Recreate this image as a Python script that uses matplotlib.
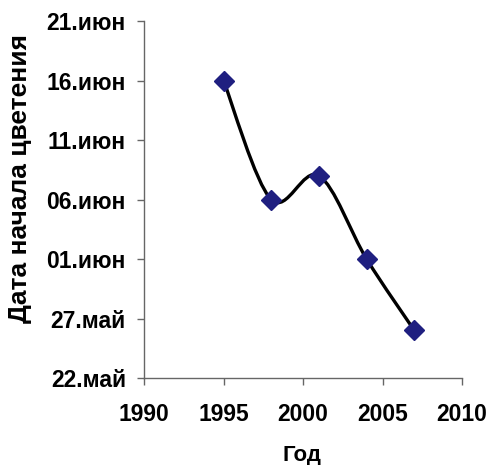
import datetime as dt
import numpy as np
import matplotlib.pyplot as plt
import matplotlib.dates as mdates
from matplotlib.path import Path
from matplotlib.patches import PathPatch

plt.rcParams["font.family"] = ["Liberation Sans", "DejaVu Sans"]
plt.rcParams["font.weight"] = "bold"

years = [1995, 1998, 2001, 2004, 2007]
bloom = [dt.date(2000, 6, 16), dt.date(2000, 6, 6), dt.date(2000, 6, 8),
         dt.date(2000, 6, 1), dt.date(2000, 5, 26)]
ytick_dates = [dt.date(2000, 5, 22), dt.date(2000, 5, 27), dt.date(2000, 6, 1),
               dt.date(2000, 6, 6), dt.date(2000, 6, 11), dt.date(2000, 6, 16),
               dt.date(2000, 6, 21)]
ytick_labels = ['22.май', '27.май', '01.июн', '06.июн', '11.июн', '16.июн', '21.июн']
xticks = [1990, 1995, 2000, 2005, 2010]

fig = plt.figure(figsize=(4.89, 4.65), dpi=100)
ax = fig.add_axes([0.2945, 0.187, 0.6503, 0.7678])

x = np.array(years, dtype=float)
y = mdates.date2num(bloom)

ax.set_xlim(1990, 2010)
ax.set_ylim(mdates.date2num(ytick_dates[0]), mdates.date2num(ytick_dates[-1]))

# smoothed line like Excel: cubic Bezier through the points, built in display space
pts = ax.transData.transform(np.column_stack([x, y]))
verts = [pts[0]]
codes = [Path.MOVETO]
n = len(pts)
for i in range(n - 1):
    p0 = pts[i - 1] if i > 0 else pts[i]
    p1 = pts[i]
    p2 = pts[i + 1]
    p3 = pts[i + 2] if i + 2 < n else pts[i + 1]
    c1 = p1 + (p2 - p0) / 6.
    c2 = p2 - (p3 - p1) / 6.
    verts += [c1, c2, p2]
    codes += [Path.CURVE4] * 3
verts = ax.transData.inverted().transform(np.array(verts))
ax.add_patch(PathPatch(Path(verts, codes), facecolor='none', edgecolor='black',
                       lw=2.4, zorder=2))

ax.plot(x, y, ls='none', marker='D', ms=10.5, color='#1f1f80', zorder=3, clip_on=False)

ax.set_xticks(xticks)
ax.set_yticks(mdates.date2num(ytick_dates))
ax.set_yticklabels(ytick_labels)
ax.tick_params(axis='both', labelsize=16.5, length=5, width=1, color='#666666', direction='out')
ax.tick_params(axis='y', pad=8)
ax.tick_params(axis='x', pad=13)

for s in ['top', 'right']:
    ax.spines[s].set_visible(False)
for s in ['left', 'bottom']:
    ax.spines[s].set_color('#666666')
    ax.spines[s].set_linewidth(1)

ax.set_xlabel('Год', fontsize=16, fontweight='bold')
ax.set_ylabel('Дата начала цветения', fontsize=19, fontweight='bold')
ax.xaxis.set_label_coords(0.497, -0.216)
ax.xaxis.label.set_verticalalignment('center')
ax.yaxis.set_label_coords(-0.39, 0.56)
ax.yaxis.label.set_verticalalignment('center')

fig.savefig('out.png', dpi=100)
